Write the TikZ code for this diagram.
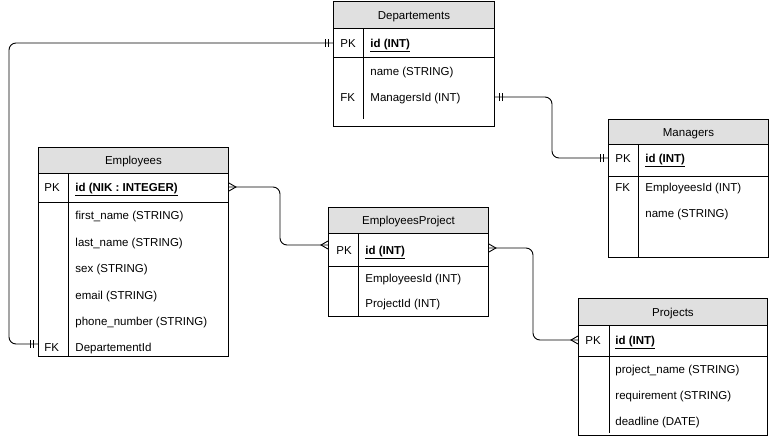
\documentclass[tikz,border=0pt]{standalone}
\usepackage{fontspec}
\setmainfont{Liberation Sans}
\usetikzlibrary{decorations.markings}
\definecolor{hdrgray}{RGB}{224,224,224}
\tikzset{
	tbl/.style={draw, anchor=north west, inner sep=0pt},
	hdr/.style={tbl, fill=hdrgray, text height=8.2pt, text depth=0pt,
		font=\fontsize{11.5}{13}\selectfont},
	fld/.style={anchor=west, inner sep=0pt, text height=8.2pt, text depth=0pt,
		font=\fontsize{11.5}{13}\selectfont},
	link/.style={draw, rounded corners=7pt},
	one2one/.style={postaction={decorate, decoration={markings,
		mark=at position 5pt with {\draw[sharp corners] (0,-4pt) -- (0,4pt);},
		mark=at position 8pt with {\draw[sharp corners] (0,-4pt) -- (0,4pt);},
		mark=at position -5pt with {\draw[sharp corners] (0,-4pt) -- (0,4pt);},
		mark=at position -8pt with {\draw[sharp corners] (0,-4pt) -- (0,4pt);}}}},
	many2many/.style={postaction={decorate, decoration={markings,
		mark=at position 7pt with {\draw[sharp corners] (-7pt,4pt) -- (0,0) -- (-7pt,-4pt);},
		mark=at position -7pt with {\draw[sharp corners] (7pt,4pt) -- (0,0) -- (7pt,-4pt);}}}}
}
\newcommand{\pkey}[1]{\underline{\textbf{#1}}}
\begin{document}
\begin{tikzpicture}[x=1pt, y=-1pt, line width=0.9pt]
	\useasboundingbox (0,0) rectangle (769,437);
	% Departements
	\node[tbl, minimum width=161pt, minimum height=125pt] (dep) at (333,1) {};
	\node[hdr, minimum width=161pt, minimum height=27pt] (dep-h) at (333,1) {Departements};
	\draw (333,57) -- (494,57);
	\draw (363,28) -- (363,119);
	\node[fld] (dep-pk) at (340,43) {PK};
	\node[fld] (dep-id) at (370,43) {\pkey{id (INT)}};
	\node[fld] (dep-name) at (370,71) {name (STRING)};
	\node[fld] (dep-fk) at (340,97) {FK};
	\node[fld] (dep-mid) at (370,97) {ManagersId (INT)};
	% Managers
	\node[tbl, minimum width=160pt, minimum height=138pt] (man) at (608,119) {};
	\node[hdr, minimum width=160pt, minimum height=25pt] (man-h) at (608,119) {Managers};
	\draw (608,176) -- (768,176);
	\draw (638,144) -- (638,257);
	\node[fld] (man-pk) at (615,158) {PK};
	\node[fld] (man-id) at (645,158) {\pkey{id (INT)}};
	\node[fld] (man-fk) at (615,187) {FK};
	\node[fld] (man-eid) at (645,187) {EmployeesId (INT)};
	\node[fld] (man-name) at (645,213) {name (STRING)};
	% Employees
	\node[tbl, minimum width=190pt, minimum height=209pt] (emp) at (38,147) {};
	\node[hdr, minimum width=190pt, minimum height=26pt] (emp-h) at (38,147) {Employees};
	\draw (38,202) -- (228,202);
	\draw (68,173) -- (68,356);
	\node[fld] (emp-pk) at (44,187) {PK};
	\node[fld] (emp-id) at (75,187) {\pkey{id (NIK : INTEGER)}};
	\node[fld] (emp-first) at (75,215) {first\_name (STRING)};
	\node[fld] (emp-last) at (75,242) {last\_name (STRING)};
	\node[fld] (emp-sex) at (75,268) {sex (STRING)};
	\node[fld] (emp-mail) at (75,295) {email (STRING)};
	\node[fld] (emp-phone) at (75,321) {phone\_number (STRING)};
	\node[fld] (emp-fk) at (44,347) {FK};
	\node[fld] (emp-did) at (75,347) {DepartementId};
	% EmployeesProject
	\node[tbl, minimum width=160pt, minimum height=109pt] (ep) at (328,207) {};
	\node[hdr, minimum width=160pt, minimum height=26pt] (ep-h) at (328,207) {EmployeesProject};
	\draw (328,266) -- (488,266);
	\draw (358,233) -- (358,316);
	\node[fld] (ep-pk) at (336,250) {PK};
	\node[fld] (ep-id) at (365,250) {\pkey{id (INT)}};
	\node[fld] (ep-eid) at (365,278) {EmployeesId (INT)};
	\node[fld] (ep-pid) at (365,303) {ProjectId (INT)};
	% Projects
	\node[tbl, minimum width=189pt, minimum height=137pt] (prj) at (578,298) {};
	\node[hdr, minimum width=189pt, minimum height=27pt] (prj-h) at (578,298) {Projects};
	\draw (578,356) -- (767,356);
	\draw (609,325) -- (609,433);
	\node[fld] (prj-pk) at (585,340) {PK};
	\node[fld] (prj-id) at (615,340) {\pkey{id (INT)}};
	\node[fld] (prj-name) at (615,369) {project\_name (STRING)};
	\node[fld] (prj-req) at (615,395) {requirement (STRING)};
	\node[fld] (prj-dl) at (615,421) {deadline (DATE)};
	% relations
	\path[link, one2one] (dep-pk -| dep.west) -| (9,200) |- ([yshift=3pt]emp-fk.west -| emp.west);
	\path[link, one2one] (dep-fk -| dep.east) -| (552,130) |- (man-pk -| man.west);
	\path[link, many2many] (emp-pk -| emp.east) -| (280,220) |- ([yshift=5pt]ep-pk.west -| ep.west);
	\path[link, many2many] ([yshift=2pt]ep-pk.east -| ep.east) -| (533,300) |- (prj-pk -| prj.west);
\end{tikzpicture}
\end{document}
